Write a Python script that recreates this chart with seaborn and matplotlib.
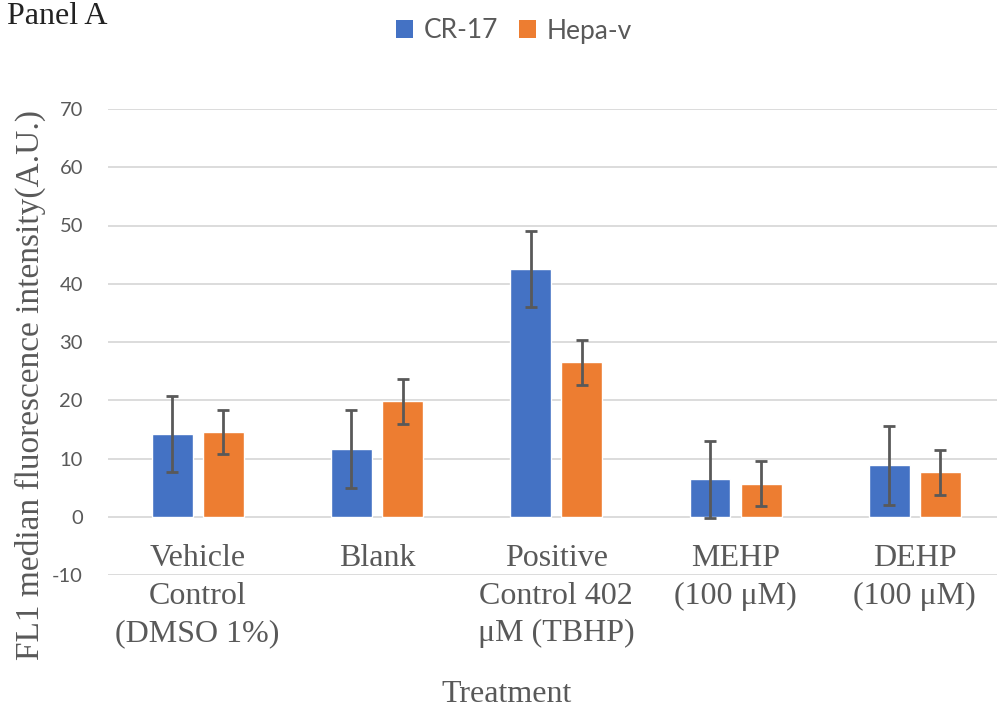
import matplotlib
matplotlib.use("Agg")
import matplotlib.pyplot as plt
import seaborn as sns
import pandas as pd
from matplotlib.patches import Patch

# Treatment groups and measured median FL1 fluorescence (A.U.) per cell line
categories = [
    "Vehicle\nControl\n(DMSO 1%)",
    "Blank",
    "Positive\nControl 402\nμM (TBHP)",
    "MEHP\n(100 μM)",
    "DEHP\n(100 μM)",
]
series_names = ["CR-17", "Hepa-v"]
cr17_values = [14.2, 11.6, 42.5, 6.4, 8.8]
cr17_errors = [6.5, 6.7, 6.5, 6.6, 6.7]
hepa_values = [14.6, 19.8, 26.5, 5.7, 7.6]
hepa_errors = [3.8, 3.8, 3.8, 3.8, 3.8]
y_ticks = [-10, 0, 10, 20, 30, 40, 50, 60, 70]

palette = {"CR-17": "#4472C4", "Hepa-v": "#ED7D31"}
text_grey = "#595959"

df = pd.DataFrame({
    "Treatment": categories * 2,
    "Line": [series_names[0]] * len(categories) + [series_names[1]] * len(categories),
    "Value": cr17_values + hepa_values,
})
errors = {series_names[0]: cr17_errors, series_names[1]: hepa_errors}

sns.set_style("white")
plt.rcParams["font.family"] = ["Liberation Serif", "DejaVu Serif"]
plt.rcParams["axes.unicode_minus"] = False

W, H = 997, 707
fig = plt.figure(figsize=(W / 100, H / 100), dpi=100)
ax = fig.add_axes([108 / W, 1 - 575 / H, 896.5 / W, 466 / H])

sns.barplot(
    data=df, x="Treatment", y="Value", hue="Line", order=categories,
    hue_order=series_names, palette=palette, errorbar=None,
    width=0.57, gap=0.2, saturation=1, legend=False, ax=ax, zorder=2,
)

# Error bars on each bar, one container per cell line
for name, container in zip(series_names, ax.containers):
    xs = [b.get_x() + b.get_width() / 2 for b in container]
    ys = [b.get_height() for b in container]
    ax.errorbar(xs, ys, yerr=errors[name], fmt="none", ecolor=text_grey,
                elinewidth=2.0, capsize=4.5, capthick=2.0, zorder=3)

ax.set_ylim(-10, 70)
ax.set_yticks(y_ticks)
ax.set_xlim(-0.5, len(categories) - 0.5)
ax.grid(axis="y", color="#d9d9d9", linewidth=1.3, zorder=0)
ax.grid(axis="x", visible=False)
ax.set_axisbelow(True)
for s in ax.spines.values():
    s.set_visible(False)

ax.tick_params(axis="y", length=0, pad=18, labelcolor=text_grey, labelsize=14.5)
for lab in ax.get_yticklabels():
    lab.set_fontfamily(["Lato", "DejaVu Sans"])

ax.tick_params(axis="x", length=0, pad=-22, labelcolor=text_grey, labelsize=23)
for lab in ax.get_xticklabels():
    lab.set_linespacing(1.38)
    lab.set_multialignment("center")

ax.set_xlabel("Treatment", fontsize=23, color=text_grey)
ax.xaxis.set_label_coords((507 - 108) / 896.5, -0.225)
ax.set_ylabel("FL1 median fluorescence intensity(A.U.)", fontsize=24, color=text_grey)
ax.yaxis.set_label_coords((46 - 108) / 896.5, (575 - 385) / 466)

handles = [Patch(facecolor=palette[n], edgecolor="none") for n in series_names]
fig.legend(handles, series_names, loc="center", bbox_to_anchor=(514 / W, 1 - 31 / H),
           ncol=2, frameon=False, handlelength=0.65, handleheight=0.65,
           handletextpad=0.4, columnspacing=0.8,
           prop={"family": ["Lato", "DejaVu Sans"], "size": 19}, labelcolor=text_grey)

fig.text(7 / W, 1 - 2 / H, "Panel A", fontsize=23, color="#222222",
         ha="left", va="top")

fig.savefig("out.png", dpi=100, facecolor="white")
